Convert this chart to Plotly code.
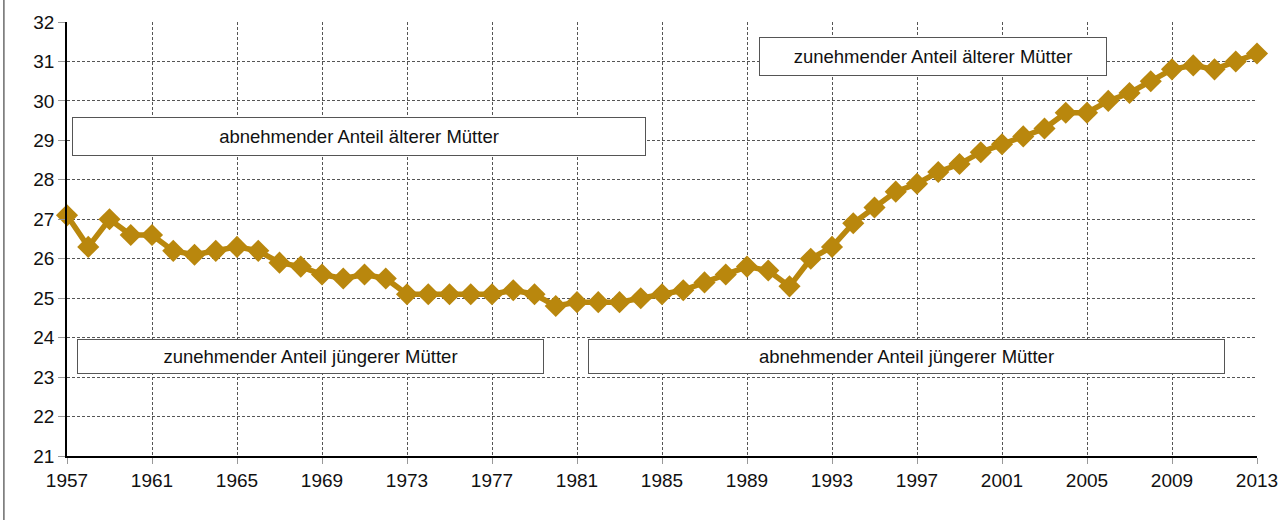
import plotly.graph_objects as go

years = list(range(1957, 2014))
age = [27.1, 26.3, 27.0, 26.6, 26.6, 26.2, 26.1, 26.2, 26.3, 26.2,
       25.9, 25.8, 25.6, 25.5, 25.6, 25.5, 25.1, 25.1, 25.1, 25.1,
       25.1, 25.2, 25.1, 24.8, 24.9, 24.9, 24.9, 25.0, 25.1, 25.2,
       25.4, 25.6, 25.8, 25.7, 25.3, 26.0, 26.3, 26.9, 27.3, 27.7,
       27.9, 28.2, 28.4, 28.7, 28.9, 29.1, 29.3, 29.7, 29.7, 30.0,
       30.2, 30.5, 30.8, 30.9, 30.8, 31.0, 31.2]

box_texts = ["zunehmender Anteil älterer Mütter",
             "abnehmender Anteil älterer Mütter",
             "zunehmender Anteil jüngerer Mütter",
             "abnehmender Anteil jüngerer Mütter"]
box_x = [1997.75, 1970.74, 1968.46, 1996.5]
box_y = [31.125, 29.10, 23.52, 23.52]
box_w = [346, 572, 465, 635]
box_h = [37, 37, 33, 33]

FONT = "Liberation Sans Narrow, Arial Narrow, Liberation Sans, Arial, sans-serif"
COLOR = "#B9870D"

fig = go.Figure()
fig.add_trace(go.Scatter(
    x=years, y=age, mode="lines+markers",
    line=dict(color=COLOR, width=5.5),
    marker=dict(symbol="diamond", size=17, color=COLOR),
    cliponaxis=False, showlegend=False, hoverinfo="x+y"))

for t, x, y, w, h in zip(box_texts, box_x, box_y, box_w, box_h):
    fig.add_annotation(x=x, y=y, xref="x", yref="y", text=t, showarrow=False,
                       width=w, height=h, bgcolor="white", bordercolor="#555555",
                       borderwidth=1, borderpad=0, align="center",
                       font=dict(family=FONT, size=18.5, color="#111"))

fig.add_shape(type="line", xref="paper", yref="paper",
              x0=-0.053, x1=-0.053, y0=-0.2, y1=1.1,
              line=dict(color="#222", width=1))

grid = dict(showgrid=True, gridcolor="#555", griddash="3px,2px", gridwidth=1,
            showline=True, linecolor="black", linewidth=1.5,
            tickcolor="#999", zeroline=False, automargin=False,
            tickfont=dict(family=FONT, size=19, color="#111"))
fig.update_xaxes(range=[1957, 2013], tick0=1957, dtick=4,
                 ticks="outside", ticklen=6, **grid)
fig.update_yaxes(range=[21, 32], dtick=1,
                 ticks="outside", ticklen=7, **grid)
fig.update_layout(width=1279, height=520,
                  margin=dict(l=67, r=22, t=22, b=64),
                  plot_bgcolor="white", paper_bgcolor="white")
fig.write_html("out.html", config={"displayModeBar": False},
               post_script="document.body.style.margin='0px';"
                           "document.body.style.overflow='hidden';")
